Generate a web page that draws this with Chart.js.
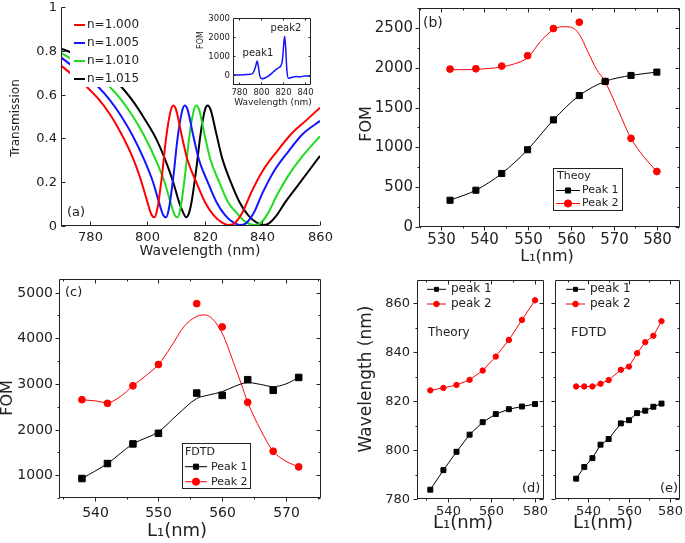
<!DOCTYPE html>
<html>
<head>
<meta charset="utf-8">
<script src="https://cdn.jsdelivr.net/npm/chart.js@4.4.0/dist/chart.umd.min.js"></script>
<style>
body { margin: 0; background: #fff; }
#wrap { position: relative; width: 685px; height: 543px; overflow: hidden; background: #fff; }
canvas { position: absolute; }
</style>
</head>
<body>
<div id="wrap">
<canvas id="pa"></canvas>
<canvas id="pin"></canvas>
<canvas id="pb"></canvas>
<canvas id="pc"></canvas>
<canvas id="pd"></canvas>
<canvas id="pe"></canvas>
</div>
<script>
// ---- (a) transmission spectra for four indices ----
var specLabels = ['n=1.000', 'n=1.005', 'n=1.010', 'n=1.015'];
var specColors = ['#ff0000', '#1414ff', '#1fdc1f', '#000000'];
var wlN0 = [770, 774, 779, 783, 787, 791, 795, 798, 800, 801.5, 802.5, 803.5, 805, 806.5, 808, 809, 810, 812, 814, 817, 820, 823, 826, 828, 830, 833, 836, 840, 845, 850, 855, 860];
var trN0 = [0.733, 0.69, 0.635, 0.58, 0.51, 0.42, 0.31, 0.2, 0.11, 0.05, 0.04, 0.08, 0.22, 0.4, 0.52, 0.55, 0.53, 0.41, 0.3, 0.2, 0.11, 0.05, 0.015, 0.005, 0.01, 0.06, 0.15, 0.25, 0.34, 0.42, 0.48, 0.54];
var wlN1 = [770, 774, 779, 783, 787, 791, 795, 799, 802, 804, 805.5, 806.5, 807.5, 809, 810.5, 812, 813, 814, 816, 818, 821, 824, 827, 830, 832, 834, 837, 840, 844, 849, 854, 860];
var trN1 = [0.77, 0.73, 0.68, 0.635, 0.575, 0.5, 0.41, 0.3, 0.2, 0.11, 0.05, 0.04, 0.08, 0.22, 0.4, 0.52, 0.55, 0.53, 0.41, 0.3, 0.2, 0.11, 0.05, 0.015, 0.005, 0.01, 0.06, 0.15, 0.25, 0.34, 0.42, 0.48];
var wlN2 = [770, 774, 779, 783, 787, 791, 795, 799, 803, 806, 808, 809.5, 810.5, 811.5, 813, 814.5, 816, 817, 818, 820, 822, 825, 828, 831, 834, 837, 839, 842, 845, 849, 854, 860];
var trN2 = [0.79, 0.76, 0.72, 0.68, 0.635, 0.575, 0.5, 0.41, 0.3, 0.2, 0.11, 0.05, 0.04, 0.08, 0.22, 0.4, 0.52, 0.55, 0.53, 0.41, 0.3, 0.2, 0.11, 0.06, 0.02, 0.005, 0.01, 0.06, 0.14, 0.23, 0.32, 0.41];
var wlN3 = [770, 774, 779, 783, 787, 791, 795, 799, 803, 806, 809, 811, 812.5, 813.5, 814.5, 815.5, 817, 818.5, 820, 821, 822, 824, 826, 829, 832, 835, 838, 840, 842, 845, 848, 852, 856, 860];
var trN3 = [0.81, 0.79, 0.755, 0.72, 0.68, 0.635, 0.57, 0.49, 0.4, 0.31, 0.2, 0.11, 0.06, 0.04, 0.06, 0.12, 0.26, 0.42, 0.53, 0.55, 0.53, 0.42, 0.31, 0.2, 0.11, 0.05, 0.015, 0.005, 0.01, 0.05, 0.11, 0.18, 0.25, 0.32];

// inset: FOM spectrum
var insetWl = [775, 780, 785, 790, 793, 795, 796.5, 797.5, 799, 801, 804, 807, 810, 813, 816, 818, 819.5, 820.5, 821.5, 822.5, 823.5, 825, 828, 832, 836, 840, 845];
var insetFom = [30, 20, 40, 60, 150, 450, 750, 500, -50, -180, -120, -20, 120, 280, 400, 500, 800, 1500, 2050, 1400, 300, -150, -100, -60, -70, -30, -40];

// (b) theory FOM
var thL1 = [532, 538, 544, 550, 556, 562, 568, 574, 580];
var thFom1 = [336, 462, 672, 970, 1345, 1651, 1828, 1903, 1945];
var thFom2 = [1983, 1987, 2021, 2151, 2492, 2571, 1828, 1113, 697];
var thFitL2 = [532, 535, 538, 541, 544, 547, 550, 553, 556, 558, 560, 562, 564, 566, 568, 571, 574, 577, 580];
var thFitF2 = [1975, 1975, 1980, 1990, 2010, 2050, 2125, 2330, 2480, 2515, 2510, 2420, 2200, 1980, 1825, 1470, 1113, 880, 697];

// (c) FDTD FOM
var fdL1 = [538, 542, 546, 550, 556, 560, 564, 568, 572];
var fdFom1 = [927, 1255, 1685, 1918, 2800, 2749, 3093, 2860, 3142];
var fdFom2 = [2654, 2574, 2960, 3426, 4760, 4250, 2596, 1525, 1182];
var fdFitL1 = [538, 542, 546, 550, 553, 556, 558, 560, 562, 564, 566, 568, 570, 572];
var fdFitF1 = [927, 1255, 1685, 1950, 2330, 2680, 2760, 2830, 2950, 3030, 2990, 2940, 3000, 3142];
var fdFitL2 = [538, 540, 542, 544, 546, 548, 550, 552, 554, 556, 557, 558, 560, 562, 563, 564, 566, 568, 570, 572];
var fdFitF2 = [2654, 2630, 2590, 2720, 2960, 3180, 3426, 3820, 4257, 4480, 4512, 4480, 4111, 3382, 3000, 2600, 2000, 1525, 1306, 1182];

// (d) theory wavelengths
var thWl1 = [783.8, 791.8, 799.3, 806.3, 811.4, 814.7, 816.7, 817.8, 818.8];
var thWl2 = [824.4, 825.4, 826.6, 828.7, 832.5, 838.2, 845.0, 853.2, 861.2];

// (e) FDTD wavelengths
var fdL1e = [534, 538, 542, 546, 550, 556, 560, 564, 568, 572, 576];
var fdWl1 = [788.3, 793.1, 796.7, 802.2, 804.5, 810.9, 812.2, 815.1, 816.1, 817.7, 819.0];
var fdWl2 = [826.0, 826.0, 826.0, 827.1, 828.6, 832.8, 834.1, 839.6, 844.1, 846.7, 852.7];

var FONT = "'DejaVu Sans', sans-serif";
var INK = '#222';
var RED = '#ff0000';

function pts(xs, ys) {
    return xs.map(function (x, i) { return { x: x, y: ys[i] }; });
}
function isMaj(v, m) {
    return Math.abs(v / m - Math.round(v / m)) < 1e-6;
}
function num(v) {
    return String(Math.round(v * 10) / 10);
}

// frame, tick marks, tick labels, texts and legend boxes
var decor = {
    id: 'decor',
    afterDatasetsDraw: function (chart, args, o) {
        var ctx = chart.ctx, a = chart.chartArea;
        var sx = chart.scales.x, sy = chart.scales.y;
        var xo = o.xo, yo = o.yo;
        ctx.save();
        ctx.strokeStyle = INK;
        ctx.fillStyle = INK;
        ctx.lineWidth = 1;
        function seg(x1, y1, x2, y2) {
            ctx.beginPath(); ctx.moveTo(x1, y1); ctx.lineTo(x2, y2); ctx.stroke();
        }
        var L = Math.round(a.left) + 0.5, R = Math.round(a.right) - 0.5;
        var T = Math.round(a.top) + 0.5, B = Math.round(a.bottom) - 0.5;
        seg(L, T, L, B + 0.5); seg(L - 0.5, B, R, B);
        if (o.box) { seg(L, T, R, T); seg(R, T, R, B); }
        var tk = o.ticks;
        ctx.textBaseline = 'middle';
        sx.ticks.forEach(function (t) {
            var p = Math.round(sx.getPixelForValue(t.value)) + 0.5;
            var maj = isMaj(t.value, xo.major);
            var len = maj ? o.maj : o.min;
            if (tk.bottom) seg(p, B, p, B + (tk.bottom === 'out' ? len : -len));
            if (tk.top) seg(p, T, p, T + (tk.top === 'out' ? -len : len));
            if (maj && !xo.hide) {
                ctx.font = xo.size + 'px ' + FONT;
                ctx.textAlign = 'center';
                ctx.fillText(num(t.value), p, a.bottom + xo.pad);
            }
        });
        sy.ticks.forEach(function (t) {
            var p = Math.round(sy.getPixelForValue(t.value)) + 0.5;
            var maj = isMaj(t.value, yo.major);
            var len = maj ? o.maj : o.min;
            if (tk.left) seg(L, p, L + (tk.left === 'out' ? -len : len), p);
            if (tk.right) seg(R, p, R + (tk.right === 'out' ? len : -len), p);
            if (maj && !yo.hide) {
                ctx.font = yo.size + 'px ' + FONT;
                ctx.textAlign = 'right';
                ctx.fillText(num(t.value), a.left - yo.pad, p);
            }
        });

        ctx.translate(-o.ox, -o.oy);
        (o.texts || []).forEach(function (t) {
            ctx.save();
            ctx.font = t.s + 'px ' + FONT;
            ctx.textAlign = t.al || 'center';
            ctx.translate(t.x, t.y);
            if (t.rot) ctx.rotate(t.rot * Math.PI / 180);
            ctx.fillText(t.t, 0, 0);
            ctx.restore();
        });

        var lg = o.legend;
        if (lg) {
            if (lg.fill) { ctx.fillStyle = lg.fill; ctx.fillRect(lg.x, lg.y, lg.w, lg.h); }
            if (lg.border) { ctx.strokeStyle = INK; ctx.lineWidth = 1; ctx.strokeRect(lg.x + 0.5, lg.y + 0.5, lg.w, lg.h); }
            ctx.font = lg.size + 'px ' + FONT;
            ctx.textAlign = 'left';
            if (lg.title) { ctx.fillStyle = INK; ctx.fillText(lg.title.t, lg.title.x, lg.title.y); }
            lg.rows.forEach(function (r) {
                var ds = chart.data.datasets[r.ds];
                ctx.strokeStyle = ds.borderColor;
                ctx.fillStyle = ds.borderColor;
                ctx.lineWidth = lg.lw || 1;
                seg(lg.x1, r.y, lg.x2, r.y);
                if (ds.pointStyle && lg.r) {
                    ctx.lineWidth = 1;
                    Chart.helpers.drawPoint(ctx, { pointStyle: ds.pointStyle, radius: lg.r, rotation: 0, borderWidth: 1 }, (lg.x1 + lg.x2) / 2, r.y);
                }
                ctx.fillStyle = INK;
                ctx.fillText(ds.label, lg.tx, r.y);
            });
        }
        ctx.restore();
    }
};

function axis(o) {
    return {
        type: 'linear', min: o.min, max: o.max,
        grid: { display: false, drawTicks: false },
        border: { display: false },
        ticks: { display: false },
        // regular ticks every o.step inside [min, max]
        afterBuildTicks: function (s) {
            var out = [];
            for (var k = Math.ceil(o.min / o.step - 1e-9); k * o.step <= o.max + 1e-9; k++) {
                out.push({ value: Math.round(k * o.step * 1e6) / 1e6 });
            }
            s.ticks = out;
        }
    };
}

function panel(id, g, datasets, xo, yo, deco) {
    var cv = document.getElementById(id);
    cv.width = g.cw; cv.height = g.ch;
    cv.style.left = g.cx + 'px'; cv.style.top = g.cy + 'px';
    var xs = axis(xo), ys = axis(yo);
    xs.afterFit = function (s) { s.height = g.cy + g.ch - g.b; };
    ys.afterFit = function (s) { s.width = g.l - g.cx; };
    deco.ox = g.cx; deco.oy = g.cy;
    deco.xo = xo; deco.yo = yo;
    return new Chart(cv, {
        type: 'scatter',
        data: { datasets: datasets },
        options: {
            responsive: false, animation: false, events: [],
            layout: { padding: { top: g.t - g.cy, right: g.cx + g.cw - g.r, left: 0, bottom: 0 } },
            scales: { x: xs, y: ys },
            plugins: { legend: { display: false }, tooltip: { enabled: false }, decor: deco }
        },
        plugins: [decor]
    });
}

function lineDs(label, xs, ys, color, w) {
    return { label: label, data: pts(xs, ys), borderColor: color, backgroundColor: color, borderWidth: w,
        pointRadius: 0, showLine: true, cubicInterpolationMode: 'monotone' };
}
function markDs(label, xs, ys, color, style, r, joined) {
    return { label: label, data: pts(xs, ys), borderColor: color, backgroundColor: color, borderWidth: 1,
        pointStyle: style, pointRadius: r, pointBorderWidth: 1, showLine: joined, tension: 0 };
}

// (a)
var specWl = [wlN0, wlN1, wlN2, wlN3];
var specTr = [trN0, trN1, trN2, trN3];
panel('pa', { cx: 0, cy: 0, cw: 345, ch: 265, l: 61, t: 7, r: 320, b: 226 },
    specLabels.map(function (lab, i) { return lineDs(lab, specWl[i], specTr[i], specColors[i], 2); }),
    { min: 770, max: 860, step: 20, major: 20, pad: 12, size: 13 },
    { min: 0, max: 1, step: 0.2, major: 0.2, pad: 4, size: 13 },
    {
        ticks: { left: 'in', bottom: 'in' }, maj: 4, min: 2,
        texts: [
            { t: 'Transmission', x: 16, y: 118, s: 12, rot: -90 },
            { t: 'Wavelength (nm)', x: 200, y: 251, s: 14 },
            { t: '(a)', x: 67, y: 213, s: 13, al: 'left' }
        ],
        legend: { x: 70, y: 12, w: 82, h: 75, fill: '#fff', size: 12, lw: 2, x1: 74, x2: 85, tx: 87,
            rows: [{ ds: 0, y: 25 }, { ds: 1, y: 43 }, { ds: 2, y: 61 }, { ds: 3, y: 79 }] }
    });

// inset of (a)
panel('pin', { cx: 190, cy: 5, cw: 135, ch: 108, l: 233, t: 18, r: 311, b: 85 },
    [lineDs('FOM', insetWl, insetFom, '#1414ff', 1.5)],
    { min: 774.5, max: 845.5, step: 20, major: 20, pad: 8, size: 8.5 },
    { min: -500, max: 3000, step: 1000, major: 1000, pad: 3, size: 8.5 },
    {
        box: true, ticks: { left: 'in', bottom: 'in', top: 'in', right: 'in' }, maj: 2, min: 2,
        texts: [
            { t: 'FOM', x: 201, y: 40, s: 8, rot: -90 },
            { t: 'Wavelength (nm)', x: 273, y: 103, s: 9 },
            { t: 'peak1', x: 258, y: 53, s: 10 },
            { t: 'peak2', x: 286, y: 28, s: 10 }
        ]
    });

// (b)
panel('pb', { cx: 345, cy: 0, cw: 340, ch: 270, l: 419, t: 8, r: 680, b: 227 },
    [
        markDs('Peak 1', thL1, thFom1, '#000', 'rect', 4.3, false),
        markDs('Peak 2', thL1, thFom2, RED, 'circle', 3.4, false),
        lineDs('Peak 1 fit', thL1, thFom1, '#000', 1),
        lineDs('Peak 2 fit', thFitL2, thFitF2, RED, 1)
    ],
    { min: 524.8, max: 585.3, step: 5, major: 10, pad: 13, size: 15 },
    { min: 0, max: 2750, step: 250, major: 500, pad: 6, size: 15 },
    {
        box: true, ticks: { left: 'out', bottom: 'out', top: 'in', right: 'in' }, maj: 4, min: 2,
        texts: [
            { t: 'FOM', x: 367, y: 124, s: 16, rot: -90 },
            { t: 'L\u2081(nm)', x: 547, y: 257, s: 16 },
            { t: '(b)', x: 423, y: 23, s: 14, al: 'left' }
        ],
        legend: { x: 553, y: 168, w: 69, h: 42, border: true, size: 11, r: 3.6, x1: 556, x2: 580, tx: 582,
            title: { t: 'Theoy', x: 557, y: 176 },
            rows: [{ ds: 0, y: 190.5 }, { ds: 1, y: 203.5 }] }
    });

// (c)
panel('pc', { cx: 0, cy: 270, cw: 340, ch: 273, l: 59, t: 279, r: 321, b: 498 },
    [
        markDs('Peak 1', fdL1, fdFom1, '#000', 'rect', 4.6, false),
        markDs('Peak 2', fdL1, fdFom2, RED, 'circle', 3.4, false),
        lineDs('Peak 1 fit', fdFitL1, fdFitF1, '#000', 1),
        lineDs('Peak 2 fit', fdFitL2, fdFitF2, RED, 1)
    ],
    { min: 534.4, max: 575.5, step: 5, major: 10, pad: 15, size: 14 },
    { min: 500, max: 5300, step: 500, major: 1000, pad: 6, size: 14 },
    {
        box: true, ticks: { left: 'out', bottom: 'out', top: 'in', right: 'in' }, maj: 4, min: 2,
        texts: [
            { t: 'FOM', x: 8, y: 398, s: 16, rot: -90 },
            { t: 'L\u2081(nm)', x: 177, y: 531, s: 18 },
            { t: '(c)', x: 65, y: 293, s: 13, al: 'left' }
        ],
        legend: { x: 182, y: 443, w: 68, h: 45, border: true, size: 11, r: 3.6, x1: 185, x2: 207, tx: 211,
            title: { t: 'FDTD', x: 185, y: 452 },
            rows: [{ ds: 0, y: 466.7 }, { ds: 1, y: 481.7 }] }
    });

// (d)
panel('pd', { cx: 345, cy: 270, cw: 205, ch: 273, l: 417, t: 280, r: 544, b: 499 },
    [
        markDs('peak 1', thL1, thWl1, '#000', 'rect', 3.5, true),
        markDs('peak 2', thL1, thWl2, RED, 'circle', 2.7, true)
    ],
    { min: 525.9, max: 584.1, step: 10, major: 20, pad: 13, size: 13 },
    { min: 780, max: 869.5, step: 10, major: 20, pad: 7, size: 13 },
    {
        box: true, ticks: { left: 'out', bottom: 'out', top: 'in', right: 'in' }, maj: 4, min: 2,
        texts: [
            { t: 'Wavelength (nm)', x: 367, y: 379, s: 17, rot: -90 },
            { t: 'L\u2081(nm)', x: 463, y: 523, s: 18 },
            { t: '(d)', x: 522, y: 489, s: 13, al: 'left' },
            { t: 'Theory', x: 428, y: 333, s: 12, al: 'left' }
        ],
        legend: { x: 0, y: 0, w: 0, h: 0, size: 12, r: 2.8, x1: 427, x2: 446, tx: 451,
            rows: [{ ds: 0, y: 289.3 }, { ds: 1, y: 304 }] }
    });

// (e)
panel('pe', { cx: 550, cy: 270, cw: 135, ch: 273, l: 554, t: 280, r: 683, b: 499 },
    [
        markDs('peak 1', fdL1e, fdWl1, '#000', 'rect', 3.5, true),
        markDs('peak 2', fdL1e, fdWl2, RED, 'circle', 2.7, true)
    ],
    { min: 523.6, max: 585.1, step: 10, major: 20, pad: 13, size: 13 },
    { min: 780, max: 869.5, step: 10, major: 20, pad: 7, size: 13, hide: true },
    {
        box: true, ticks: { left: 'out', bottom: 'out', top: 'in', right: 'in' }, maj: 4, min: 2,
        texts: [
            { t: 'L\u2081(nm)', x: 603, y: 523, s: 18 },
            { t: '(e)', x: 660, y: 489, s: 13, al: 'left' },
            { t: 'FDTD', x: 571, y: 333, s: 13, al: 'left' }
        ],
        legend: { x: 0, y: 0, w: 0, h: 0, size: 12, r: 2.8, x1: 566, x2: 585, tx: 590,
            rows: [{ ds: 0, y: 289.3 }, { ds: 1, y: 304 }] }
    });
</script>
</body>
</html>
